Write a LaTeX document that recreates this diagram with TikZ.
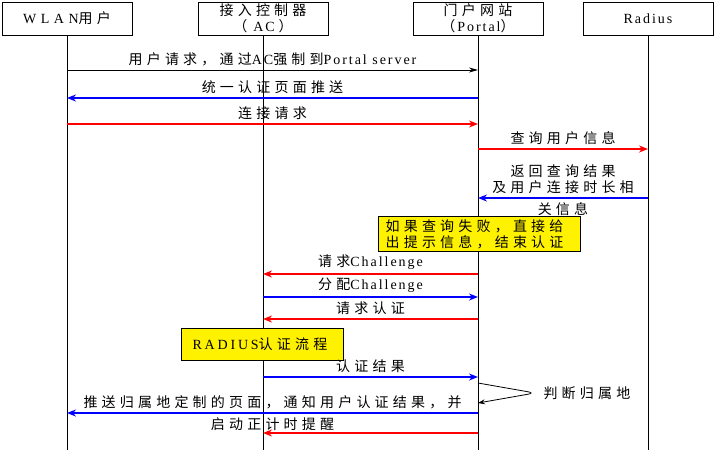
\documentclass[tikz,border=0pt]{standalone}
\usepackage{fontspec}
\setmainfont[LetterSpace=14]{Liberation Serif}
\newfontfamily\cjk[LetterSpace=30]{Noto Sans CJK SC}
\usetikzlibrary{arrows.meta, positioning}

\tikzset{
  actor/.style={draw, line width=1pt, minimum width=130pt, minimum height=33pt, inner sep=0pt, align=center},
  life/.style={line width=1pt},
  msg/.style={line width=2pt, -{Stealth[length=9pt, width=7pt]}},
  lbl/.style={align=center},
  note/.style={draw, fill=yellow, line width=1.2pt, inner ysep=3pt, align=left, anchor=north west}
}

\begin{document}
\begin{tikzpicture}[x=1pt, y=-1pt, every node/.style={font=\fontsize{14}{16}\selectfont}]
  \useasboundingbox (0,0) rectangle (715,450);

  % Participants
  \node[actor] (wlan) at (67,18.5) {{\addfontfeature{LetterSpace=32}WLAN}{\cjk 用户}};
  \node[actor] (ac) at (263,18.5) {{\cjk 接入控制器}\\{\cjk （}\hspace{6pt}AC\hspace{4pt}{\cjk ）}};
  \node[actor] (portal) at (478,18.5) {{\cjk 门户网站}\\{\cjk （}\hspace{2pt}Portal{\cjk ）}};
  \node[actor] (radius) at (648,18.5) {Radius};

  % Lifelines
  \draw[life] (wlan.south) -- (wlan |- 0,450);
  \draw[life] (ac.south) -- (ac |- 0,450);
  \draw[life] (portal.south) -- (portal |- 0,450);
  \draw[life] (radius.south) -- (radius |- 0,450);

  % Redirect to portal
  \draw[line width=0.8pt, -{Stealth[length=9pt, width=5pt]}] (wlan |- 0,70) -- node[lbl, above] {{\cjk 用户请求，通过}AC{\cjk 强制到}Portal server} (portal |- 0,70);
  \draw[msg, blue] (portal |- 0,98) -- node[lbl, above, black] {\cjk 统一认证页面推送} (wlan |- 0,98);
  \draw[msg, red] (wlan |- 0,124) -- node[lbl, above, black] {\cjk 连接请求} (portal |- 0,124);

  % Query
  \draw[msg, red] (portal |- 0,149) -- node[lbl, above, black] {\cjk 查询用户信息} (radius |- 0,149);
  \draw[msg, blue] (radius |- 0,198) -- node[lbl, above, black] {\cjk 返回查询结果\\\cjk 及用户连接时长相} node[lbl, below, black] {\cjk 关信息} (portal |- 0,198);

  \node[note, text width=188pt, inner xsep=7pt, minimum height=35pt] (fail) at (378,216) {\cjk 如果查询失败，直接给\\\cjk 出提示信息，结束认证};

  % Challenge
  \draw[msg, red] (portal |- 0,274) -- node[lbl, above, black] {{\cjk 请求}Challenge} (ac |- 0,274);
  \draw[msg, blue] (ac |- 0,297) -- node[lbl, above, black] {{\cjk 分配}Challenge} (portal |- 0,297);
  \draw[msg, red] (portal |- 0,319) -- node[lbl, above, black] {\cjk 请求认证} (ac |- 0,319);

  \node[note, text width=140pt, inner xsep=11pt, minimum height=32pt] (rflow) at (181,328) {{\addfontfeature{LetterSpace=20}RADIUS}{\cjk 认证流程}};

  % Result
  \draw[msg, blue] (ac |- 0,377) -- node[lbl, above, black] {\cjk 认证结果} (portal |- 0,377);
  \coordinate (turn) at (535,393);
  \draw[line width=0.8pt, rounded corners=7pt, -{Stealth[length=7pt, width=5pt]}] (portal |- 0,383) -- (turn) -- (portal |- 0,403);
  \node[anchor=west] (home) at (540,393) {\cjk 判断归属地};
  \draw[msg, blue] (portal |- 0,413) -- node[lbl, above, black] {\cjk 推送归属地定制的页面，通知用户认证结果，并} node[lbl, below, black] {\cjk 启动正计时提醒} (wlan |- 0,413);
  \draw[msg, red] (portal |- 0,433) -- (ac |- 0,433);
\end{tikzpicture}
\end{document}
